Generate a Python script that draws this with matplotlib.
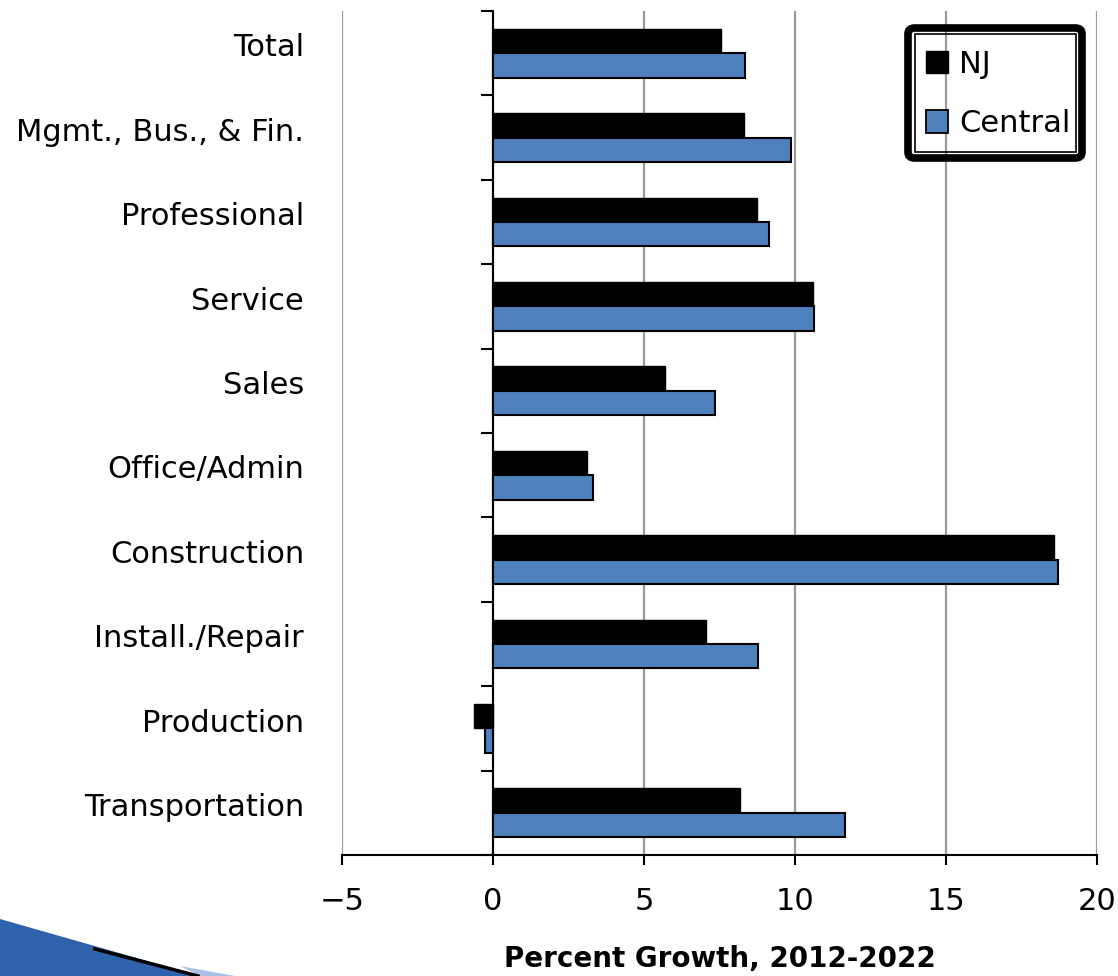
#!/usr/bin/env python3
"""Occupational employment growth, NJ vs Central region, 2012-2022."""

import matplotlib
matplotlib.use("Agg")
import matplotlib.pyplot as plt
import matplotlib.transforms as mtransforms
import numpy as np
from matplotlib.patches import FancyBboxPatch, Polygon, Patch

# ---------------------------------------------------------------------------
# Data
# ---------------------------------------------------------------------------
CATEGORIES = [
    "Total", "Mgmt., Bus., & Fin.", "Professional", "Service", "Sales",
    "Office/Admin", "Construction", "Install./Repair", "Production",
    "Transportation",
]
NJ = [7.55, 8.31, 8.74, 10.60, 5.70, 3.11, 18.58, 7.05, -0.63, 8.18]
CENTRAL = [8.34, 9.87, 9.14, 10.63, 7.35, 3.31, 18.71, 8.77, -0.26, 11.66]
XTICKS = [-5, 0, 5, 10, 15, 20]

# ---------------------------------------------------------------------------
# Style
# ---------------------------------------------------------------------------
W, H = 1118, 976
DPI = 100
BLUE = "#4F81BD"
GRID_GRAY = "#9A9A9A"
FS = 22
BAR_H = 0.29

plt.rcParams.update({
    "font.family": ["DejaVu Sans"],
    "axes.unicode_minus": True,
})


def fx(px):
    return px / W


def fy(py):
    return 1 - py / H


def main():
    fig = plt.figure(figsize=(W / DPI, H / DPI), dpi=DPI)
    ax = fig.add_axes([fx(342), fy(855), fx(1097) - fx(342), fy(11) - fy(855)])

    y = np.arange(len(CATEGORIES))
    ax.barh(y - BAR_H / 2, NJ, height=BAR_H, color="black",
            edgecolor="black", linewidth=1.0, zorder=3, label="NJ")
    ax.barh(y + BAR_H / 2, CENTRAL, height=BAR_H, color=BLUE,
            edgecolor="black", linewidth=1.5, zorder=3, label="Central")

    ax.set_xlim(-5, 20)
    ax.set_ylim(len(CATEGORIES) - 0.5, -0.5)

    # x axis
    ax.set_xticks(XTICKS)
    ax.set_xticklabels([f"{t}".replace("-", "\u2212") for t in XTICKS])
    ax.tick_params(axis="x", direction="out", length=7, width=1.5,
                   labelsize=FS, pad=16)
    ax.xaxis.grid(True, color=GRID_GRAY, linewidth=1.6, zorder=0)
    ax.set_axisbelow(True)
    ax.set_xlabel("Percent Growth, 2012-2022", fontsize=20,
                  fontweight="bold", labelpad=21)

    # y axis sits at x = 0, category ticks at group boundaries
    ax.spines["left"].set_position(("data", 0))
    ax.spines["left"].set_linewidth(1.5)
    ax.spines["bottom"].set_linewidth(1.5)
    ax.spines["top"].set_visible(False)
    ax.spines["right"].set_visible(False)
    ax.set_yticks(y)
    ax.set_yticklabels(CATEGORIES)
    ax.set_yticks(np.arange(len(CATEGORIES) + 1) - 0.5, minor=True)
    ax.tick_params(axis="y", which="major", length=0, labelsize=FS, pad=136)
    ax.tick_params(axis="y", which="minor", direction="out", length=9,
                   width=1.5)
    lift = mtransforms.ScaledTranslation(0, 6 / 72, fig.dpi_scale_trans)
    for lbl in ax.get_yticklabels():
        lbl.set_transform(lbl.get_transform() + lift)

    # Legend with a double frame
    handles = [Patch(facecolor="black", edgecolor="black", label="NJ"),
               Patch(facecolor=BLUE, edgecolor="black", linewidth=1.3,
                     label="Central")]
    fig.legend(handles=handles, loc="center",
               bbox_to_anchor=(fx(998), fy(94)), frameon=False,
               fontsize=FS, handlelength=0.75, handleheight=0.75,
               handletextpad=0.35, labelspacing=1.0, borderpad=0)
    fig.patches.append(FancyBboxPatch(
        (fx(908), fy(158)), fx(1082) - fx(908), fy(28) - fy(158),
        boxstyle="round,pad=0,rounding_size=0.006", transform=fig.transFigure,
        facecolor="none", edgecolor="black", linewidth=5.5, zorder=5))
    fig.patches.append(FancyBboxPatch(
        (fx(914.5), fy(152)), fx(1076) - fx(914.5), fy(34) - fy(152),
        boxstyle="square,pad=0", transform=fig.transFigure,
        facecolor="none", edgecolor="black", linewidth=1.2, zorder=5))

    # Slide decoration at the bottom-left corner
    fig.patches.append(Polygon(
        [(fx(0), fy(919)), (fx(200), fy(976)), (fx(0), fy(976))],
        closed=True, transform=fig.transFigure, facecolor="#2F62AC",
        edgecolor="none", zorder=1))
    fig.patches.append(Polygon(
        [(fx(180), fy(966)), (fx(235), fy(976)), (fx(200), fy(976))],
        closed=True, transform=fig.transFigure, facecolor="#A9C2E4",
        edgecolor="none", zorder=1))
    fig.lines.append(plt.Line2D(
        [fx(95), fx(198)], [fy(949), fy(976)], transform=fig.transFigure,
        color="black", linewidth=2.5, zorder=2))

    fig.savefig("out.png", dpi=DPI)
    plt.close(fig)


if __name__ == "__main__":
    main()
